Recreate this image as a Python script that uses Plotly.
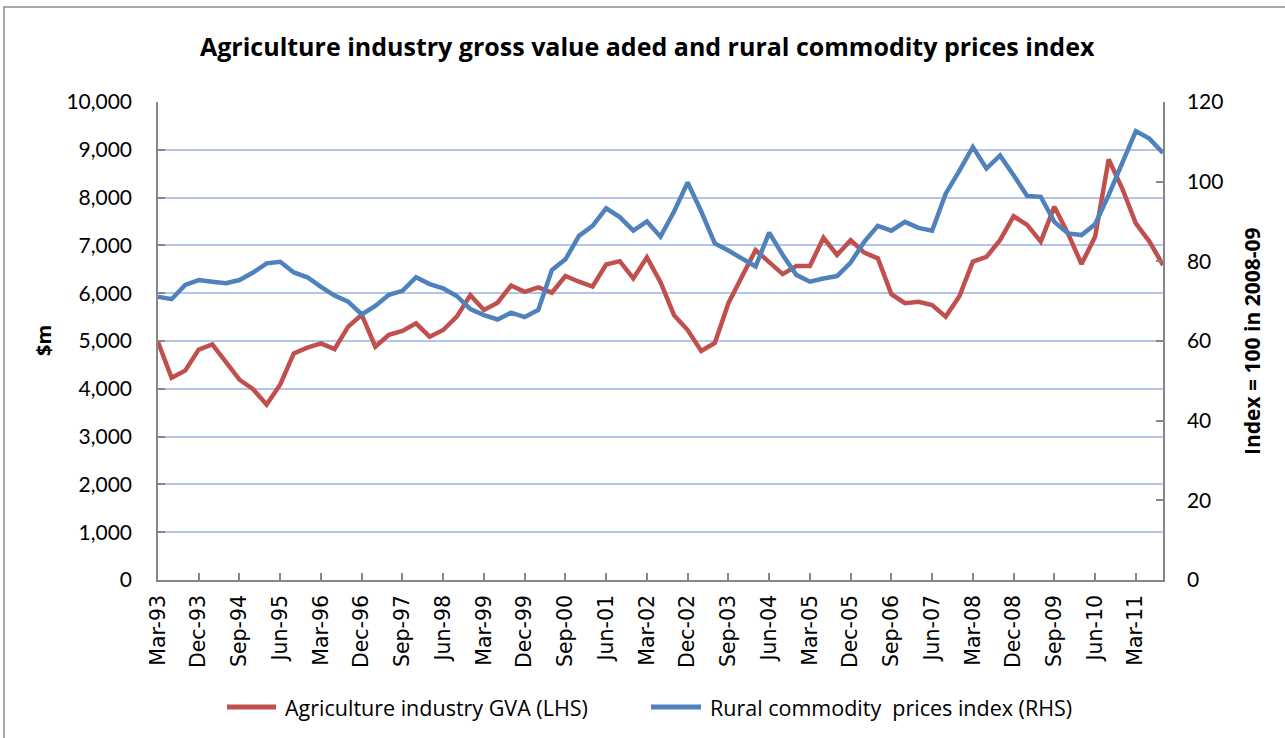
import plotly.graph_objects as go

quarters = [
    "Mar-93", "Jun-93", "Sep-93", "Dec-93", "Mar-94", "Jun-94", "Sep-94", "Dec-94",
    "Mar-95", "Jun-95", "Sep-95", "Dec-95", "Mar-96", "Jun-96", "Sep-96", "Dec-96",
    "Mar-97", "Jun-97", "Sep-97", "Dec-97", "Mar-98", "Jun-98", "Sep-98", "Dec-98",
    "Mar-99", "Jun-99", "Sep-99", "Dec-99", "Mar-00", "Jun-00", "Sep-00", "Dec-00",
    "Mar-01", "Jun-01", "Sep-01", "Dec-01", "Mar-02", "Jun-02", "Sep-02", "Dec-02",
    "Mar-03", "Jun-03", "Sep-03", "Dec-03", "Mar-04", "Jun-04", "Sep-04", "Dec-04",
    "Mar-05", "Jun-05", "Sep-05", "Dec-05", "Mar-06", "Jun-06", "Sep-06", "Dec-06",
    "Mar-07", "Jun-07", "Sep-07", "Dec-07", "Mar-08", "Jun-08", "Sep-08", "Dec-08",
    "Mar-09", "Jun-09", "Sep-09", "Dec-09", "Mar-10", "Jun-10", "Sep-10", "Dec-10",
    "Mar-11", "Jun-11", "Sep-11",
]

tick_labels = [
    "Mar-93", "Dec-93", "Sep-94", "Jun-95", "Mar-96", "Dec-96", "Sep-97", "Jun-98",
    "Mar-99", "Dec-99", "Sep-00", "Jun-01", "Mar-02", "Dec-02", "Sep-03", "Jun-04",
    "Mar-05", "Dec-05", "Sep-06", "Jun-07", "Mar-08", "Dec-08", "Sep-09", "Jun-10",
    "Mar-11",
]

gva = [
    4980, 4230, 4380, 4820, 4930, 4560, 4190, 3990, 3670, 4090,
    4740, 4860, 4950, 4830, 5300, 5550, 4880, 5130, 5210, 5370,
    5090, 5230, 5510, 5960, 5650, 5800, 6160, 6030, 6120, 6010,
    6360, 6240, 6140, 6600, 6670, 6310, 6750, 6230, 5540, 5230,
    4790, 4960, 5790, 6350, 6900, 6650, 6400, 6570, 6570, 7160,
    6800, 7110, 6850, 6730, 5980, 5790, 5820, 5750, 5510, 5930,
    6660, 6760, 7110, 7610, 7430, 7080, 7810, 7250, 6610, 7180,
    8800, 8190, 7460, 7080, 6590,
]

rcpi = [
    71.1, 70.5, 74.1, 75.3, 74.9, 74.5, 75.3, 77.2, 79.5, 79.9,
    77.2, 76.0, 73.6, 71.4, 69.9, 66.7, 68.8, 71.6, 72.6, 76.0,
    74.3, 73.2, 71.3, 68.0, 66.5, 65.4, 67.1, 66.0, 67.8, 77.8,
    80.5, 86.4, 88.9, 93.3, 91.1, 87.7, 90.0, 86.2, 92.5, 99.8,
    92.5, 84.5, 82.7, 80.8, 78.7, 87.2, 81.6, 76.6, 74.9, 75.7,
    76.3, 79.7, 84.9, 88.9, 87.7, 89.9, 88.4, 87.7, 97.0, 102.7,
    108.7, 103.3, 106.6, 101.6, 96.4, 96.2, 89.9, 87.0, 86.6, 89.3,
    96.6, 104.7, 112.7, 110.8, 107.2,
]

left_ticks = [0, 1000, 2000, 3000, 4000, 5000, 6000, 7000, 8000, 9000, 10000]
right_ticks = [0, 20, 40, 60, 80, 100, 120]

title_text = "Agriculture industry gross value aded and rural commodity prices index"
gva_name = "Agriculture industry GVA (LHS)"
rcpi_name = "Rural commodity  prices index (RHS)"

RED = "#C0504D"
BLUE = "#4F81BD"
AXIS = "#868686"
GRID = "#B3C6E7"
FONT = "Lato"
FONT2 = "Open Sans"

fig = go.Figure()
fig.add_trace(go.Scatter(x=quarters, y=gva, mode="lines", name=gva_name,
                         line=dict(color=RED, width=4.5), yaxis="y", showlegend=False))
fig.add_trace(go.Scatter(x=quarters, y=rcpi, mode="lines", name=rcpi_name,
                         line=dict(color=BLUE, width=4.5), yaxis="y2", showlegend=False))

W, H = 1285, 738
L, R, T, B = 158, 1163, 102, 580
pw, ph = R - L, B - T


def px(xp):
    return (xp - L) / pw


def py(yp):
    return (B - yp) / ph


fig.update_layout(
    width=W, height=H,
    margin=dict(l=L, r=W - R, t=T, b=H - B, pad=0),
    paper_bgcolor="white", plot_bgcolor="white",
    font=dict(family=FONT, color="#000000", size=20),
    xaxis=dict(
        type="category", categoryorder="array", categoryarray=quarters,
        range=[0, len(quarters) - 1],
        tickmode="array", tickvals=tick_labels, ticktext=tick_labels,
        tickangle=-90, tickfont=dict(family="DejaVu Sans", size=20.5, color="#000"),
        ticks="inside", ticklen=7, tickcolor=AXIS, tickwidth=1.5,
        ticklabelstandoff=5,
        showline=True, linecolor=AXIS, linewidth=1.5,
        showgrid=False, zeroline=False, fixedrange=True,
    ),
    yaxis=dict(
        range=[0, 10000], tickvals=left_ticks,
        ticktext=[f"{v:,}" for v in left_ticks],
        tickfont=dict(family=FONT, size=21, color="#000"),
        ticks="inside", ticklen=7, tickcolor=AXIS, tickwidth=1.5,
        ticklabelstandoff=20,
        showline=True, linecolor=AXIS, linewidth=1.5,
        showgrid=True, gridcolor=GRID, gridwidth=1.5,
        zeroline=False, fixedrange=True,
    ),
    yaxis2=dict(
        range=[0, 120], tickvals=right_ticks,
        overlaying="y", side="right",
        tickfont=dict(family=FONT, size=21, color="#000"),
        ticks="inside", ticklen=7, tickcolor=AXIS, tickwidth=1.5,
        ticklabelstandoff=18,
        showline=True, linecolor=AXIS, linewidth=1.5,
        showgrid=False, zeroline=False, fixedrange=True,
    ),
)

annotations = [
    dict(text=f"<b>{title_text}</b>", x=px(647), y=py(46), xref="paper", yref="paper",
         xanchor="center", yanchor="middle", showarrow=False,
         font=dict(family=FONT2, size=25, color="#000")),
    dict(text="<b>$m</b>", x=px(43), y=py(341), xref="paper", yref="paper",
         xanchor="center", yanchor="middle", showarrow=False, textangle=-90,
         font=dict(family=FONT2, size=20, color="#000")),
    dict(text="<b>Index = 100 in 2008-09</b>", x=px(1252), y=py(342), xref="paper", yref="paper",
         xanchor="center", yanchor="middle", showarrow=False, textangle=-90,
         font=dict(family=FONT2, size=21, color="#000")),
    dict(text=gva_name, x=px(283), y=py(707), xref="paper", yref="paper",
         xanchor="left", yanchor="middle", showarrow=False,
         font=dict(family=FONT2, size=21.5, color="#000")),
    dict(text=rcpi_name, x=px(708), y=py(707), xref="paper", yref="paper",
         xanchor="left", yanchor="middle", showarrow=False,
         font=dict(family=FONT2, size=21.5, color="#000")),
]

shapes = [
    dict(type="line", xref="paper", yref="paper", x0=px(227), x1=px(276), y0=py(707), y1=py(707),
         line=dict(color=RED, width=5)),
    dict(type="line", xref="paper", yref="paper", x0=px(651), x1=px(701), y0=py(707), y1=py(707),
         line=dict(color=BLUE, width=5)),
    dict(type="rect", xref="paper", yref="paper", x0=px(4), x1=px(1300), y0=py(7), y1=py(760),
         line=dict(color="#8C8C8C", width=1.5), fillcolor="rgba(0,0,0,0)", layer="below"),
]

fig.update_layout(annotations=annotations, shapes=shapes)

fig.write_html(
    "out.html",
    config={"displayModeBar": False},
    post_script="document.body.style.margin='0px';document.body.style.overflow='hidden';",
)
